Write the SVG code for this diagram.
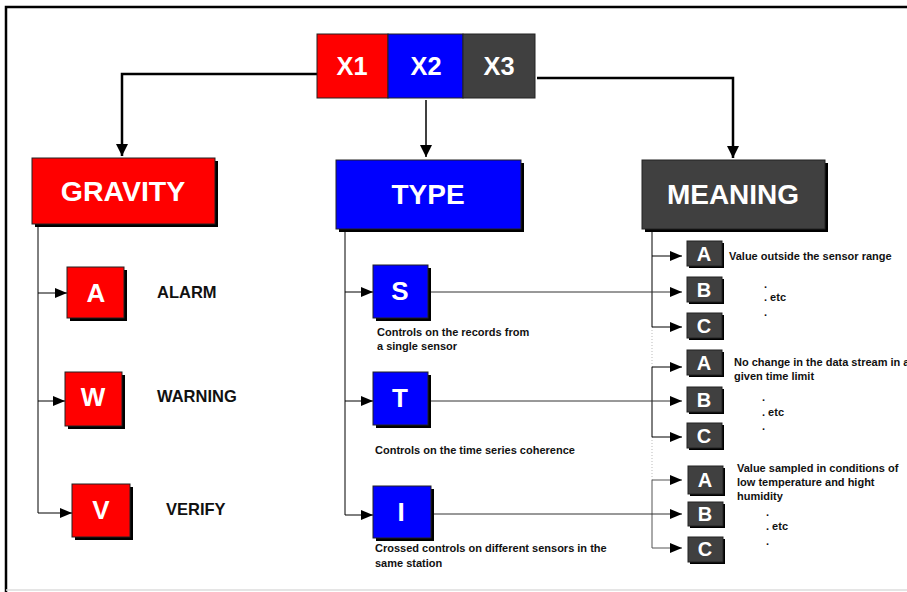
<svg xmlns="http://www.w3.org/2000/svg" width="907" height="592" viewBox="0 0 907 592">
<style>
text{font-family:"Liberation Sans",Arial,sans-serif;font-weight:bold}
.w{fill:#fff;text-anchor:middle;dominant-baseline:central}
.k{fill:#111}
.d{font-size:11px;fill:#111}
.red{fill:#ff0000;stroke:#222;stroke-width:1}
.blue{fill:#0000ff;stroke:#222;stroke-width:1}
.gray{fill:#404040;stroke:#222;stroke-width:1}
.sh{fill:#000}
.big{stroke:#000;stroke-width:2.5;fill:none}
.thin{stroke:#000;stroke-width:1;fill:none}
.faint{stroke:#bbb;stroke-width:1;stroke-dasharray:1 2;fill:none}
</style>
<defs>
<marker id="ab" markerUnits="userSpaceOnUse" markerWidth="12" markerHeight="14" refX="12" refY="7" orient="auto"><path d="M0,1 L12,7 L0,13 z" fill="#000"/></marker>
<marker id="as" markerUnits="userSpaceOnUse" markerWidth="12" markerHeight="12" refX="12" refY="6" orient="auto"><path d="M0,1 L12,6 L0,11 z" fill="#000"/></marker>
</defs>
<rect width="907" height="592" fill="#fff"/>
<path d="M6,592 L6,7 L907,7" stroke="#000" stroke-width="2.5" fill="none"/>
<line x1="6" y1="590" x2="907" y2="590" stroke="#ddd" stroke-width="1.5"/>

<g id="connectors">
<path class="big" d="M317,74 L122,74 L122,156" marker-end="url(#ab)"/>
<path class="big" d="M426,100 L426,157" marker-end="url(#ab)" style="stroke-width:1.5"/>
<path class="big" d="M537,78 L733,78 L733,158" marker-end="url(#ab)"/>
<path class="thin" d="M38,224 L38,513"/>
<path class="thin" d="M38,293 L67,293" marker-end="url(#as)"/>
<path class="thin" d="M38,401 L65,401" marker-end="url(#as)"/>
<path class="thin" d="M38,513 L72,513" marker-end="url(#as)"/>
<path class="thin" d="M345,229 L345,515"/>
<path class="thin" d="M345,292 L373,292" marker-end="url(#as)"/>
<path class="thin" d="M345,401 L373,401" marker-end="url(#as)"/>
<path class="thin" d="M345,515 L373,515" marker-end="url(#as)"/>
<path class="thin" d="M652,229 L652,327"/>
<path class="faint" d="M652,327 L652,367"/>
<path class="thin" d="M652,367 L652,437"/>
<path class="faint" d="M652,437 L652,480"/>
<path class="thin" d="M652,480 L652,548" style="stroke:#555"/>
<path class="thin" d="M652,256 L682,256" marker-end="url(#as)"/>
<path class="thin" d="M652,327 L682,327" marker-end="url(#as)"/>
<path class="thin" d="M652,367 L682,367" marker-end="url(#as)"/>
<path class="thin" d="M652,437 L682,437" marker-end="url(#as)"/>
<path class="thin" d="M652,480 L682,480" marker-end="url(#as)" style="stroke:#555"/>
<path class="thin" d="M652,548 L682,548" marker-end="url(#as)" style="stroke:#555"/>
<path class="thin" d="M431,292 L682,292" marker-end="url(#as)" style="stroke:#333"/>
<path class="thin" d="M431,401 L682,401" marker-end="url(#as)" style="stroke:#333"/>
<path class="thin" d="M434,514 L682,514" marker-end="url(#as)" style="stroke:#333"/>
</g>

<g id="xbox">
<rect x="317" y="34" width="71" height="64" class="red"/>
<rect x="388" y="34" width="75" height="64" class="blue"/>
<rect x="463" y="34" width="72" height="64" class="gray"/>
<text x="352" y="66" class="w" font-size="26" textLength="31" lengthAdjust="spacingAndGlyphs">X1</text>
<text x="426" y="66" class="w" font-size="26" textLength="31" lengthAdjust="spacingAndGlyphs">X2</text>
<text x="499" y="66" class="w" font-size="26" textLength="31" lengthAdjust="spacingAndGlyphs">X3</text>
</g>

<g id="gravity">
<rect x="35" y="161" width="183" height="66" class="sh"/>
<rect x="32" y="158" width="183" height="66" class="red"/>
<text x="123" y="191" class="w" font-size="28.5">GRAVITY</text>
</g>
<g id="type">
<rect x="339" y="163" width="185" height="69" class="sh"/>
<rect x="336" y="160" width="185" height="69" class="blue"/>
<text x="428" y="194" class="w" font-size="28">TYPE</text>
</g>
<g id="meaning">
<rect x="645" y="163" width="183" height="69" class="sh"/>
<rect x="642" y="160" width="183" height="69" class="gray"/>
<text x="733" y="194" class="w" font-size="28">MEANING</text>
</g>

<g id="g-a">
<rect x="70" y="270" width="57" height="51" class="sh"/>
<rect x="67" y="267" width="57" height="51" class="red"/>
<text x="96" y="293" class="w" font-size="26">A</text>
<text x="157" y="298" class="k" font-size="16.5">ALARM</text>
</g>
<g id="g-w">
<rect x="68" y="375" width="57" height="54" class="sh"/>
<rect x="65" y="372" width="57" height="54" class="red"/>
<text x="93" y="397" class="w" font-size="26">W</text>
<text x="157" y="402" class="k" font-size="16.5">WARNING</text>
</g>
<g id="g-v">
<rect x="75" y="487" width="58" height="53" class="sh"/>
<rect x="72" y="484" width="58" height="53" class="red"/>
<text x="101" y="510" class="w" font-size="26">V</text>
<text x="166" y="515" class="k" font-size="16.5">VERIFY</text>
</g>

<g id="t-s">
<rect x="376" y="268" width="55" height="53" class="sh"/>
<rect x="373" y="265" width="55" height="53" class="blue"/>
<text x="400" y="291" class="w" font-size="26">S</text>
<text x="377" y="336" class="d">Controls on the records from</text>
<text x="377" y="350" class="d">a single sensor</text>
</g>
<g id="t-t">
<rect x="376" y="375" width="55" height="53" class="sh"/>
<rect x="373" y="372" width="55" height="53" class="blue"/>
<text x="400" y="398" class="w" font-size="26">T</text>
<text x="375" y="454" class="d">Controls on the time series coherence</text>
</g>
<g id="t-i">
<rect x="376" y="489" width="58" height="52" class="sh"/>
<rect x="373" y="486" width="58" height="52" class="blue"/>
<text x="401" y="512" class="w" font-size="26">I</text>
<text x="375" y="552" class="d">Crossed controls on different sensors in the</text>
<text x="375" y="567" class="d">same station</text>
</g>

<g id="m1-a">
<rect x="689" y="243" width="35" height="25" class="sh"/>
<rect x="687" y="241" width="35" height="25" class="gray"/>
<text x="704" y="254" class="w" font-size="20">A</text>
<text x="729" y="260" class="d">Value outside the sensor range</text>
</g>
<g id="m1-b">
<rect x="689" y="279" width="35" height="25" class="sh"/>
<rect x="687" y="277" width="35" height="25" class="gray"/>
<text x="704" y="290" class="w" font-size="20">B</text>
<text x="764" y="288" class="d">.</text>
<text x="764" y="301" class="d">. etc</text>
<text x="764" y="316" class="d">.</text>
</g>
<g id="m1-c">
<rect x="689" y="315" width="35" height="25" class="sh"/>
<rect x="687" y="313" width="35" height="25" class="gray"/>
<text x="704" y="326" class="w" font-size="20">C</text>
</g>

<g id="m2-a">
<rect x="689" y="352" width="35" height="25" class="sh"/>
<rect x="687" y="350" width="35" height="25" class="gray"/>
<text x="704" y="363" class="w" font-size="20">A</text>
<text x="734" y="366" class="d">No change in the data stream in a</text>
<text x="734" y="380" class="d">given time limit</text>
</g>
<g id="m2-b">
<rect x="689" y="389" width="35" height="25" class="sh"/>
<rect x="687" y="387" width="35" height="25" class="gray"/>
<text x="704" y="400" class="w" font-size="20">B</text>
<text x="762" y="401" class="d">.</text>
<text x="762" y="416" class="d">. etc</text>
<text x="762" y="430" class="d">.</text>
</g>
<g id="m2-c">
<rect x="689" y="425" width="35" height="25" class="sh"/>
<rect x="687" y="423" width="35" height="25" class="gray"/>
<text x="704" y="436" class="w" font-size="20">C</text>
</g>

<g id="m3-a">
<rect x="690" y="468" width="35" height="28" class="sh"/>
<rect x="688" y="466" width="35" height="28" class="gray"/>
<text x="705" y="480" class="w" font-size="20">A</text>
<text x="737" y="472" class="d">Value sampled in conditions of</text>
<text x="737" y="486" class="d">low temperature and hight</text>
<text x="737" y="500" class="d">humidity</text>
</g>
<g id="m3-b">
<rect x="690" y="504" width="35" height="24" class="sh"/>
<rect x="688" y="502" width="35" height="24" class="gray"/>
<text x="705" y="514" class="w" font-size="20">B</text>
<text x="766" y="516" class="d">.</text>
<text x="766" y="530" class="d">. etc</text>
<text x="766" y="545" class="d">.</text>
</g>
<g id="m3-c">
<rect x="690" y="539" width="35" height="25" class="sh"/>
<rect x="688" y="537" width="35" height="25" class="gray"/>
<text x="705" y="549" class="w" font-size="20">C</text>
</g>
</svg>
